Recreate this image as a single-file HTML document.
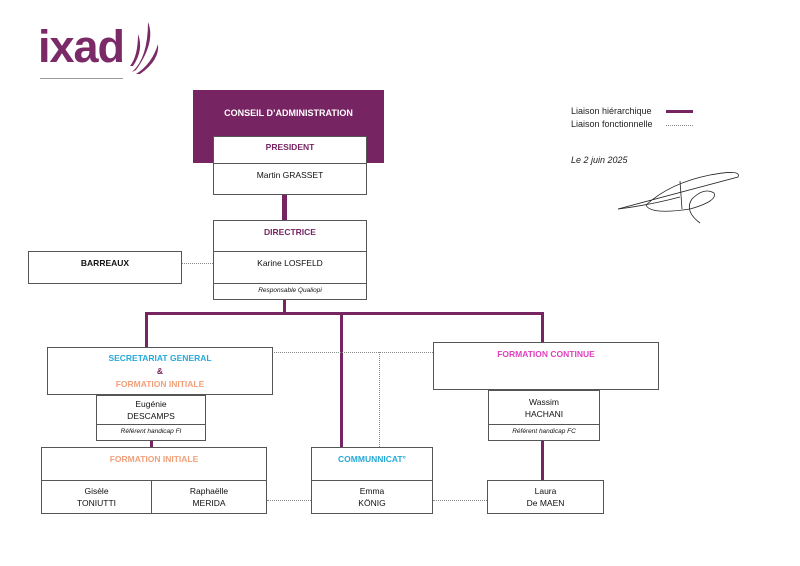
<!DOCTYPE html>
<html><head><meta charset="utf-8"><style>
body{margin:0;width:800px;height:566px;background:#fff;position:relative;overflow:hidden;font-family:"Liberation Sans",sans-serif;}
.b{position:absolute;box-sizing:border-box;border:1px solid #555;background:#fff;text-align:center;font-size:8.5px;color:#111;line-height:12px;}
.a{position:absolute;}
.t{font-weight:bold;}
.i{font-style:italic;font-size:6.5px;line-height:14px;}
.l{position:absolute;background:#772462;}
.d{position:absolute;border:0 dotted #888;}
</style></head><body>
<div class="a" style="left:38px;top:21px;font-size:45px;font-weight:bold;color:#7a2a66;letter-spacing:-1px;">ixad</div>
<svg class="a" style="left:128px;top:20px" width="34" height="56"><g fill="#7a2a66"><path d="M4 52 Q20 38 20 2 Q28 22 8 50 Z"/><path d="M8 54 Q24 44 30 24 Q32 40 12 54 Z"/><path d="M2 46 Q10 36 10 14 Q16 30 5 46Z"/></g></svg>
<div class="a" style="left:40px;top:78px;width:83px;height:1px;background:#999"></div>

<div class="a" style="left:193px;top:90px;width:191px;height:73px;background:#772462"></div>
<div class="a t" style="left:193px;top:108px;width:191px;text-align:center;color:#fff;font-size:9px">CONSEIL D’ADMINISTRATION</div>
<div class="b t" style="left:213px;top:136px;width:154px;height:28px;color:#772462;padding-top:4px">PRESIDENT</div>
<div class="b" style="left:213px;top:163px;width:154px;height:32px;padding-top:5px">Martin GRASSET</div>
<div class="l" style="left:282px;top:195px;width:5px;height:25px"></div>
<div class="b t" style="left:213px;top:220px;width:154px;height:32px;color:#772462;padding-top:5px">DIRECTRICE</div>
<div class="b" style="left:213px;top:251px;width:154px;height:33px;padding-top:5px">Karine LOSFELD</div>
<div class="b i" style="left:213px;top:283px;width:154px;height:17px">Responsable Qualiopi</div>
<div class="b t" style="left:28px;top:251px;width:154px;height:33px;padding-top:5px">BARREAUX</div>
<div class="d" style="left:182px;top:263px;width:31px;border-top-width:1px"></div>

<div class="l" style="left:283px;top:300px;width:3px;height:15px"></div>
<div class="l" style="left:145px;top:312px;width:399px;height:3px"></div>
<div class="l" style="left:145px;top:312px;width:3px;height:35px"></div>
<div class="l" style="left:340px;top:312px;width:3px;height:135px"></div>
<div class="l" style="left:541px;top:312px;width:3px;height:30px"></div>

<div class="d" style="left:272px;top:352px;width:161px;border-top-width:1px"></div>
<div class="d" style="left:379px;top:352px;height:95px;border-left-width:1px"></div>

<div class="b t" style="left:47px;top:347px;width:226px;height:48px;padding-top:4px;line-height:13px"><span style="color:#27a9d8">SECRETARIAT GENERAL</span><br><span style="color:#772462">&amp;</span><br><span style="color:#f0a07a">FORMATION INITIALE</span></div>
<div class="b" style="left:96px;top:395px;width:110px;height:30px;padding-top:2px">Eugénie<br>DESCAMPS</div>
<div class="b i" style="left:96px;top:424px;width:110px;height:17px">Référent handicap FI</div>
<div class="l" style="left:150px;top:441px;width:3px;height:6px"></div>

<div class="b t" style="left:41px;top:447px;width:226px;height:34px;color:#f0a07a;padding-top:5px">FORMATION INITIALE</div>
<div class="b" style="left:41px;top:480px;width:111px;height:34px;padding-top:4px">Gisèle<br>TONIUTTI</div>
<div class="b" style="left:151px;top:480px;width:116px;height:34px;padding-top:4px">Raphaëlle<br>MERIDA</div>
<div class="d" style="left:267px;top:500px;width:44px;border-top-width:1px"></div>

<div class="b t" style="left:311px;top:447px;width:122px;height:34px;color:#27a9d8;padding-top:5px">COMMUNNICAT°</div>
<div class="b" style="left:311px;top:480px;width:122px;height:34px;padding-top:4px">Emma<br>KÖNIG</div>
<div class="d" style="left:433px;top:500px;width:54px;border-top-width:1px"></div>

<div class="b t" style="left:433px;top:342px;width:226px;height:48px;color:#e040c0;padding-top:5px">FORMATION CONTINUE</div>
<div class="b" style="left:488px;top:390px;width:112px;height:35px;padding-top:5px">Wassim<br>HACHANI</div>
<div class="b i" style="left:488px;top:424px;width:112px;height:17px">Référent handicap FC</div>
<div class="l" style="left:541px;top:441px;width:3px;height:39px"></div>
<div class="b" style="left:487px;top:480px;width:117px;height:34px;padding-top:4px">Laura<br>De MAEN</div>

<div class="a" style="left:571px;top:106px;font-size:9px;color:#222">Liaison hiérarchique</div>
<div class="l" style="left:666px;top:110px;width:27px;height:3px"></div>
<div class="a" style="left:571px;top:119px;font-size:9px;color:#222">Liaison fonctionnelle</div>
<div class="d" style="left:666px;top:125px;width:27px;border-top-width:1px"></div>
<div class="a" style="left:571px;top:155px;font-size:9px;font-style:italic;color:#222">Le 2 juin 2025</div>
<svg class="a" style="left:610px;top:165px" width="135" height="60"><g fill="none" stroke="#222" stroke-width="0.8"><path d="M8 44 Q60 30 128 12 Q132 4 100 10 Q60 18 36 40 Q40 50 80 44 Q108 36 104 28 Q94 22 82 34 Q74 46 90 58"/><path d="M8 44 Q40 40 70 32"/><path d="M70 16 L72 44"/></g></svg>
</body></html>
